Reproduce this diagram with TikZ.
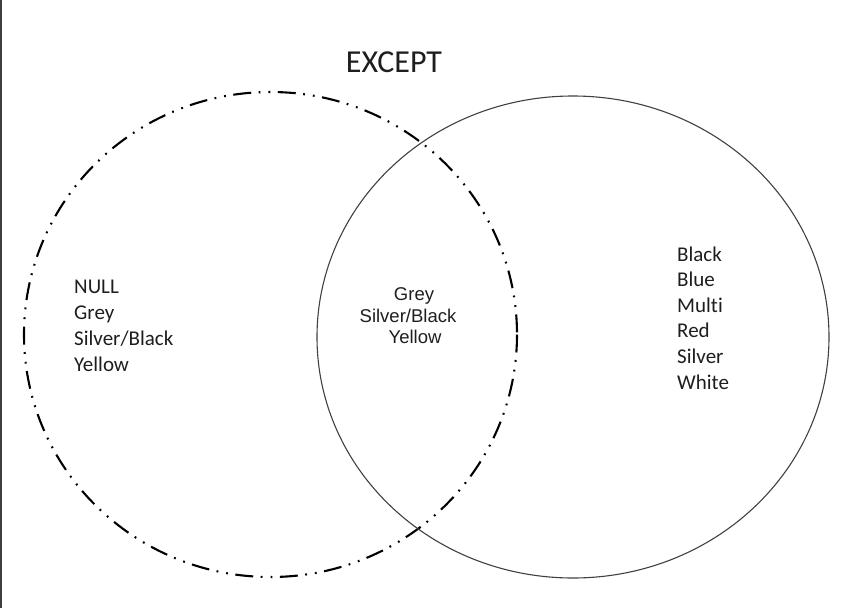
\documentclass[tikz,border=0pt]{standalone}
\usepackage{fontspec}
\newfontfamily\calib[Ligatures=NoCommon]{Carlito}
\newfontfamily\arialf{Liberation Sans}
\definecolor{txt}{HTML}{1E1E1E}
\definecolor{edge}{HTML}{404040}
\begin{document}
\begin{tikzpicture}[x=1pt,y=-1pt,
  setcircle/.style={line width=2.1pt, black, dash pattern=on 18pt off 7.5pt on 1.8pt off 8pt on 1.8pt off 7.5pt},
  allcircle/.style={line width=1.1pt, draw=black!75},
  lbl/.style={font=\calib\fontsize{21}{26}\selectfont, text=txt, inner sep=0pt, anchor=base west},
  midlbl/.style={font=\arialf\fontsize{18.5}{21}\selectfont, text=txt, inner sep=0pt, anchor=base},
  ttl/.style={font=\calib\fontsize{32}{38}\selectfont, text=txt, inner sep=0pt, anchor=base}]
\useasboundingbox (0,0) rectangle (860,608);
\fill[edge] (0,0) rectangle (1.5,608);
\draw[setcircle] (270.5,334.5) ellipse [x radius=246.5, y radius=242.5];
\draw[allcircle] (573,337) ellipse [x radius=256, y radius=241];
\node[ttl] (title) at (394,72) {EXCEPT};
\node[lbl] (l1) at (74,293) {NULL};
\node[lbl] (l2) at (74,319) {Grey};
\node[lbl] (l3) at (74,345) {Silver/Black};
\node[lbl] (l4) at (74,371) {Yellow};
\node[midlbl] (m1) at (414,300) {Grey};
\node[midlbl] (m2) at (408,322) {Silver/Black};
\node[midlbl] (m3) at (415,343) {Yellow};
\node[lbl] (r1) at (677,261) {Black};
\node[lbl] (r2) at (677,286.6) {Blue};
\node[lbl] (r3) at (677,312.2) {Multi};
\node[lbl] (r4) at (677,337.8) {Red};
\node[lbl] (r5) at (677,363.4) {Silver};
\node[lbl] (r6) at (677,389) {White};
\end{tikzpicture}
\end{document}
